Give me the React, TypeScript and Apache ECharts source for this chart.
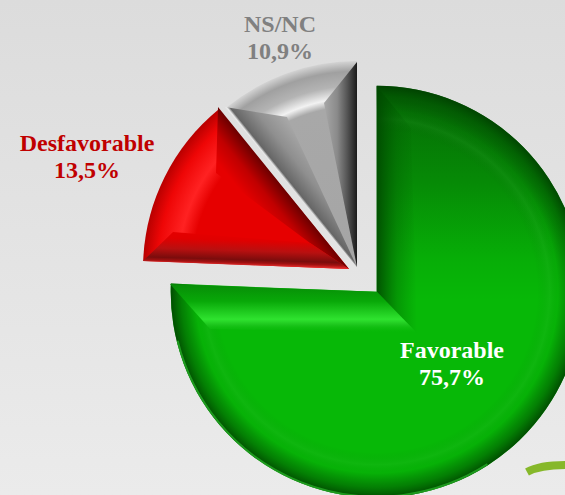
import React, { useEffect, useRef } from "react";
import * as echarts from "echarts";

const categories = ["Favorable", "Desfavorable", "NS/NC"];
const values = [75.7, 13.5, 10.9];

const W = 565;
const H = 495;
const R = 206;
const apex: [number, number][] = [[376.7, 291.7], [349, 269], [357, 267]];
const labelPos: [number, number, string][] = [
  [452, 363, "#ffffff"],
  [87, 156, "#c00000"],
  [280, 37, "#808080"],
];

const radial = (c: [number, number], stops: [number, string][]) => ({
  type: "radial", x: c[0], y: c[1], r: R, global: true,
  colorStops: stops.map(([offset, color]) => ({ offset, color })),
});
const linear = (x: number, y: number, x2: number, y2: number, stops: [number, string][], global = false) => ({
  type: "linear", x, y, x2, y2, global,
  colorStops: stops.map(([offset, color]) => ({ offset, color })),
});

function slice(index: number, color: any) {
  return {
    type: "pie",
    silent: true,
    center: apex[index],
    radius: [0, R],
    startAngle: 90,
    clockwise: true,
    label: { show: false },
    labelLine: { show: false },
    emphasis: { disabled: true },
    data: values.map((value, i) => ({
      value,
      name: categories[i],
      itemStyle: { color: i === index ? color : "rgba(0,0,0,0)" },
    })),
  };
}

const poly = (points: number[][], fill: any) => ({
  type: "polygon", z: 10, silent: true, shape: { points }, style: { fill },
});

export default function App() {
  const ref = useRef<HTMLDivElement>(null);
  useEffect(() => {
    const chart = echarts.init(ref.current!, null, { renderer: "svg" });
    const labels = categories.map((name, i) => ({
      type: "text", z: 20, silent: true,
      x: labelPos[i][0], y: labelPos[i][1],
      style: {
        text: `${name}\n${String(values[i]).replace(".", ",")}%`,
        fill: labelPos[i][2],
        font: 'bold 24px "Liberation Serif"',
        lineHeight: 27,
        align: "center",
        verticalAlign: "middle",
      },
    }));
    chart.setOption({
      animation: false,
      backgroundColor: "transparent",
      series: [
        slice(0, linear(0, 86, 0, 300, [[0, "#056805"], [0.45, "#068a06"], [0.8, "#07ad07"], [1, "#07b807"]], true)),
        slice(0, radial(apex[0], [
          [0, "rgba(0,60,0,0)"], [0.78, "rgba(0,60,0,0)"], [0.84, "rgba(70,170,70,0.12)"],
          [0.88, "rgba(0,60,0,0.05)"], [0.95, "rgba(0,70,0,0.5)"], [1, "rgba(0,60,0,0.85)"],
        ])),
        slice(1, radial(apex[1], [
          [0, "#e60000"], [0.76, "#e60000"], [0.83, "#ff2222"], [0.93, "#ee0606"], [1, "#b80000"],
        ])),
        slice(2, radial(apex[2], [
          [0, "#a5a5a5"], [0.78, "#a8a8a8"], [0.82, "#f2f2f2"], [0.88, "#b4b4b4"], [0.95, "#a0a0a0"], [1, "#d4d4d4"],
        ])),
      ],
      graphic: {
        elements: [
          // soft background arc, bottom right
          {
            type: "bezierCurve", z: 1, silent: true,
            shape: { x1: 527, y1: 472, cpx1: 540, cpy1: 465, x2: 565, y2: 465 },
            style: { stroke: "#86b82a", lineWidth: 8, fill: "none" },
          },
          // lit rim at the foot of the Favorable slice
          {
            type: "arc", z: 11, silent: true,
            shape: { cx: apex[0][0], cy: apex[0][1], r: R - 1, startAngle: 1.0, endAngle: 2.9 },
            style: { stroke: "rgba(50,200,50,0.6)", lineWidth: 2, fill: "none" },
          },
          // Favorable bevels
          poly([[376.7, 86], [411, 128], [417, 333], [376.7, 291.7]],
            linear(0, 0, 1, 0, [[0, "rgba(0,72,0,0.9)"], [0.5, "rgba(0,90,0,0.35)"], [1, "rgba(0,100,0,0)"]])),
          poly([[170, 284], [210, 329], [417, 333], [376.7, 291.7]],
            linear(0, 0, 0, 1, [[0, "#078c07"], [0.35, "#08a808"], [0.72, "#2fe32f"], [0.82, "#1fc81f"], [1, "rgba(7,184,7,0)"]])),
          // Desfavorable bevels
          poly([[218, 107], [216, 173], [310, 243], [349, 269]],
            linear(283, 188, 256, 210, [[0, "#6e0000"], [0.5, "#c00000"], [1, "#e60000"]], true)),
          poly([[143, 261], [173, 232], [310, 243], [349, 269]],
            linear(246, 232, 245, 266, [[0, "#e60000"], [0.25, "#e00000"], [0.55, "#b81010"], [0.82, "#7a0c0c"], [0.9, "#a01010"], [1, "#ee3030"]], true)),
          // NS/NC bevels
          poly([[225, 107], [287, 117], [357, 267]],
            linear(291, 187, 322, 162, [[0, "#e8e8e8"], [0.06, "#666666"], [0.5, "#8f8f8f"], [1, "#a8a8a8"]], true)),
          poly([[357, 62], [324, 103], [357, 267]],
            linear(324, 0, 357, 0, [[0, "#a8a8a8"], [0.4, "#8a8a8a"], [0.7, "#555555"], [1, "#1a1a1a"]], true)),
          ...labels,
        ],
      },
    });
    return () => chart.dispose();
  }, []);
  return (
    <div
      ref={ref}
      style={{
        position: "fixed", left: 0, top: 0, width: W, height: H,
        background: "linear-gradient(180deg,#dcdcdc 0%,#ebebeb 100%)",
      }}
    />
  );
}
